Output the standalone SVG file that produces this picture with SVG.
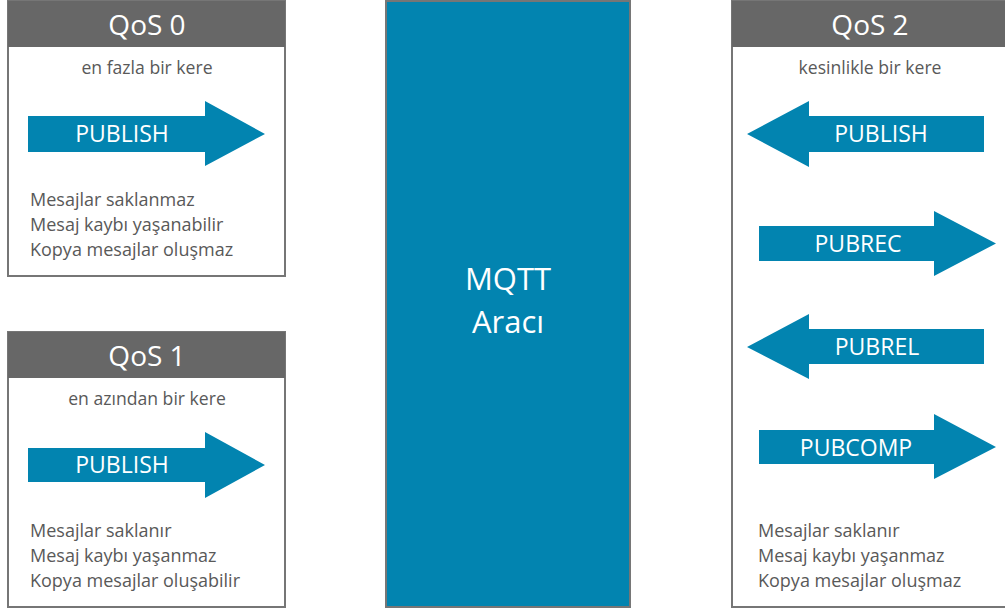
<svg xmlns="http://www.w3.org/2000/svg" width="1005" height="612" viewBox="0 0 1005 612">
<style>
.box{fill:#ffffff;stroke:#767676;stroke-width:2}
.hdr{fill:#676767}
.hdrt{font-family:"Open Sans","Liberation Sans",sans-serif;font-size:28px;fill:#ffffff;text-anchor:middle}
.sub{font-family:"Open Sans","Liberation Sans",sans-serif;font-size:17.6px;fill:#595959;text-anchor:middle}
.body{font-family:"Open Sans","Liberation Sans",sans-serif;font-size:18px;fill:#595959}
.arr{fill:#0284b0}
.arrt{font-family:"Open Sans","Liberation Sans",sans-serif;font-size:23px;fill:#ffffff;text-anchor:middle}
.broker{fill:#0284b0;stroke:#767676;stroke-width:2}
.brt{font-family:"Open Sans","Liberation Sans",sans-serif;font-size:31px;fill:#ffffff;text-anchor:middle}
</style>
<g id="qos0">
<rect class="box" x="8" y="1" width="277" height="275"/>
<rect class="hdr" x="8" y="1" width="277" height="46"/>
<text class="hdrt" x="147" y="35">QoS 0</text>
<text class="sub" x="147" y="74">en fazla bir kere</text>
<path class="arr" d="M28,116 H205 V101 L265,134 L205,166 V152 H28 Z"/>
<text class="arrt" x="122" y="142">PUBLISH</text>
<text class="body" x="30" y="206">Mesajlar saklanmaz</text>
<text class="body" x="30" y="231">Mesaj kaybı yaşanabilir</text>
<text class="body" x="30" y="256">Kopya mesajlar oluşmaz</text>
</g>
<g id="qos1">
<rect class="box" x="8" y="332" width="277" height="275"/>
<rect class="hdr" x="8" y="332" width="277" height="46"/>
<text class="hdrt" x="147" y="366">QoS 1</text>
<text class="sub" x="147" y="405">en azından bir kere</text>
<path class="arr" d="M28,448 H205 V432 L265,465 L205,498 V482 H28 Z"/>
<text class="arrt" x="122" y="473">PUBLISH</text>
<text class="body" x="30" y="537">Mesajlar saklanır</text>
<text class="body" x="30" y="562">Mesaj kaybı yaşanmaz</text>
<text class="body" x="30" y="587">Kopya mesajlar oluşabilir</text>
</g>
<g id="broker">
<rect class="broker" x="386" y="1" width="244" height="606"/>
<text class="brt" x="508" y="290">MQTT</text>
<text class="brt" x="508" y="333">Aracı</text>
</g>
<g id="qos2">
<rect class="box" x="732" y="1" width="276" height="606"/>
<rect class="hdr" x="732" y="1" width="276" height="46"/>
<text class="hdrt" x="870" y="35">QoS 2</text>
<text class="sub" x="870" y="74">kesinlikle bir kere</text>
<text class="body" x="758" y="537">Mesajlar saklanır</text>
<text class="body" x="758" y="562">Mesaj kaybı yaşanmaz</text>
<text class="body" x="758" y="587">Kopya mesajlar oluşmaz</text>
</g>
<g id="connectors">
<g id="qos2-publish">
<path class="arr" d="M984,116 H809 V101 L747,134 L809,167 V152 H984 Z"/>
<text class="arrt" x="881" y="142">PUBLISH</text>
</g>
<g id="qos2-pubrec">
<path class="arr" d="M759,226 H934 V211 L996,243.5 L934,276 V261 H759 Z"/>
<text class="arrt" x="858" y="252">PUBREC</text>
</g>
<g id="qos2-pubrel">
<path class="arr" d="M984,329 H809 V314 L747,347 L809,379 V364 H984 Z"/>
<text class="arrt" x="877" y="355">PUBREL</text>
</g>
<g id="qos2-pubcomp">
<path class="arr" d="M759,430 H934 V414 L996,447 L934,479 V464 H759 Z"/>
<text class="arrt" x="856" y="456">PUBCOMP</text>
</g>
</g>
</svg>
